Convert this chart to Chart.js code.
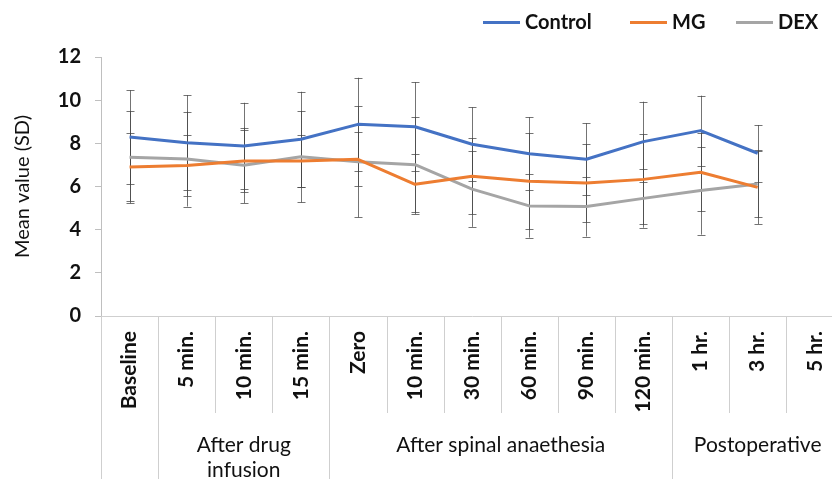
<!DOCTYPE html>
<html>
<head>
<meta charset="utf-8">
<script src="https://cdn.jsdelivr.net/npm/chart.js@4.4.0/dist/chart.umd.min.js"></script>
<style>
    html, body { margin: 0; padding: 0; background: #fff; overflow: hidden; width: 832px; height: 479px; }
    #wrap { position: relative; width: 855px; height: 479px; }
    .leg { position: absolute; top: 8px; font: bold 20px Lato, sans-serif; color: #111; white-space: nowrap; line-height: 26px; }
    .leg i { display: inline-block; width: 37px; height: 3px; vertical-align: middle; margin-right: 5px; position: relative; top: -1px; }
</style>
</head>
<body>
<div id="wrap">
    <canvas id="myChart" width="855" height="479"></canvas>
    <div class="leg" style="left:483px"><i style="background:#4472C4"></i>Control</div>
    <div class="leg" style="left:630px"><i style="background:#ED7D31"></i>MG</div>
    <div class="leg" style="left:736px"><i style="background:#A5A5A5"></i>DEX</div>
</div>
<script>
const categories = ['Baseline', '5 min.', '10 min.', '15 min.', 'Zero', '10 min.', '30 min.', '60 min.', '90 min.', '120 min.', '1 hr.', '3 hr.', '5 hr.'];
const groupNames = ['', 'After drug\ninfusion', 'After spinal anaethesia', 'Postoperative'];
const groupStarts = [0, 1, 4, 10];

const control = [8.29, 8.03, 7.88, 8.19, 8.88, 8.77, 7.96, 7.52, 7.26, 8.08, 8.59, 7.54, null];
const controlSD = [2.17, 2.2, 2.0, 2.2, 2.16, 2.06, 1.71, 1.69, 1.67, 1.85, 1.62, 1.31, null];
const mg = [6.90, 6.97, 7.18, 7.18, 7.26, 6.10, 6.47, 6.24, 6.16, 6.33, 6.66, 5.96, null];
const mgSD = [1.57, 1.40, 1.44, 1.2, 1.25, 1.39, 1.76, 2.23, 1.80, 2.09, 1.81, 1.70, null];
const dex = [7.35, 7.27, 6.98, 7.38, 7.15, 7.01, 5.88, 5.10, 5.07, 5.45, 5.81, 6.12, null];
const dexSD = [2.13, 2.2, 1.75, 2.12, 2.58, 2.2, 1.75, 1.47, 1.39, 1.36, 2.04, 1.55, null];

const yTicks = [0, 2, 4, 6, 8, 10, 12];

// SD whiskers, drawn under the lines
const errorBars = {
    id: 'errorBars',
    beforeDatasetsDraw(chart) {
        const { ctx, scales: { x, y } } = chart;
        ctx.save();
        ctx.strokeStyle = 'rgba(70,70,70,0.75)';
        ctx.lineWidth = 1;
        chart.data.datasets.forEach(ds => {
            ds.data.forEach((v, i) => {
                const sd = ds.sd[i];
                if (v === null || sd === null) return;
                const px = Math.round(x.getPixelForValue(i)) + 0.5;
                const top = y.getPixelForValue(v + sd);
                const bot = y.getPixelForValue(v - sd);
                ctx.beginPath();
                ctx.moveTo(px, top); ctx.lineTo(px, bot);
                ctx.moveTo(px - 4, Math.round(top) + 0.5); ctx.lineTo(px + 4, Math.round(top) + 0.5);
                ctx.moveTo(px - 4, Math.round(bot) + 0.5); ctx.lineTo(px + 4, Math.round(bot) + 0.5);
                ctx.stroke();
            });
        });
        ctx.restore();
    }
};

// multi-level category axis: separators and group names
const groupAxis = {
    id: 'groupAxis',
    afterDraw(chart) {
        const { ctx } = chart;
        const x = chart.scales.x;
        const step = x.getPixelForValue(1) - x.getPixelForValue(0);
        const start = x.getPixelForValue(0) - step / 2;
        ctx.save();
        ctx.strokeStyle = '#cfcfcf';
        ctx.lineWidth = 1;
        for (let i = 0; i <= categories.length; i++) {
            const px = Math.round(start + i * step) + 0.5;
            const long = groupStarts.includes(i) || i === categories.length;
            ctx.beginPath();
            ctx.moveTo(px, x.top);
            ctx.lineTo(px, long ? chart.height : x.top + 97);
            ctx.stroke();
        }
        ctx.fillStyle = '#111';
        ctx.font = '21px Lato, sans-serif';
        ctx.textAlign = 'center';
        ctx.textBaseline = 'middle';
        groupNames.forEach((name, g) => {
            const from = groupStarts[g];
            const to = (g + 1 < groupStarts.length ? groupStarts[g + 1] : categories.length) - 1;
            const cx = (x.getPixelForValue(from) + x.getPixelForValue(to)) / 2;
            name.split('\n').forEach((line, k) => ctx.fillText(line, cx, x.top + 129 + k * 25));
        });
        ctx.restore();
    }
};

function series(label, data, sd, color) {
    return {
        label, data, sd,
        borderColor: color,
        backgroundColor: color,
        borderWidth: 3,
        pointRadius: 0,
        tension: 0,
        borderJoinStyle: 'round',
        spanGaps: false
    };
}

const ctx = document.getElementById('myChart').getContext('2d');
const myChart = new Chart(ctx, {
    type: 'line',
    data: {
        labels: categories,
        datasets: [
            series('Control', control, controlSD, '#4472C4'),
            series('MG', mg, mgSD, '#ED7D31'),
            series('DEX', dex, dexSD, '#A5A5A5')
        ]
    },
    options: {
        responsive: false,
        animation: false,
        layout: { padding: { top: 57, right: 1, left: 0, bottom: 0 } },
        plugins: {
            legend: { display: false },
            tooltip: { enabled: false }
        },
        scales: {
            x: {
                offset: true,
                grid: { drawOnChartArea: false, drawTicks: false },
                border: { color: '#cfcfcf' },
                ticks: {
                    autoSkip: false,
                    minRotation: 90,
                    maxRotation: 90,
                    padding: 15,
                    color: '#111',
                    font: { family: 'Lato, sans-serif', size: 21, weight: 'bold' }
                },
                afterFit: s => { s.height = 163; }
            },
            y: {
                min: 0,
                max: 12,
                afterBuildTicks: s => { s.ticks = yTicks.map(v => ({ value: v })); },
                grid: { drawOnChartArea: false, tickLength: 6, color: '#bfbfbf' },
                border: { color: '#bfbfbf' },
                ticks: {
                    padding: 14,
                    color: '#111',
                    font: { family: 'Lato, sans-serif', size: 20, weight: 'bold' }
                },
                title: {
                    display: true,
                    text: 'Mean value (SD)',
                    color: '#111',
                    padding: { top: 11, bottom: 0 },
                    font: { family: 'Lato, sans-serif', size: 20 }
                },
                afterFit: s => { s.width = 101; }
            }
        }
    },
    plugins: [errorBars, groupAxis]
});
</script>
</body>
</html>
